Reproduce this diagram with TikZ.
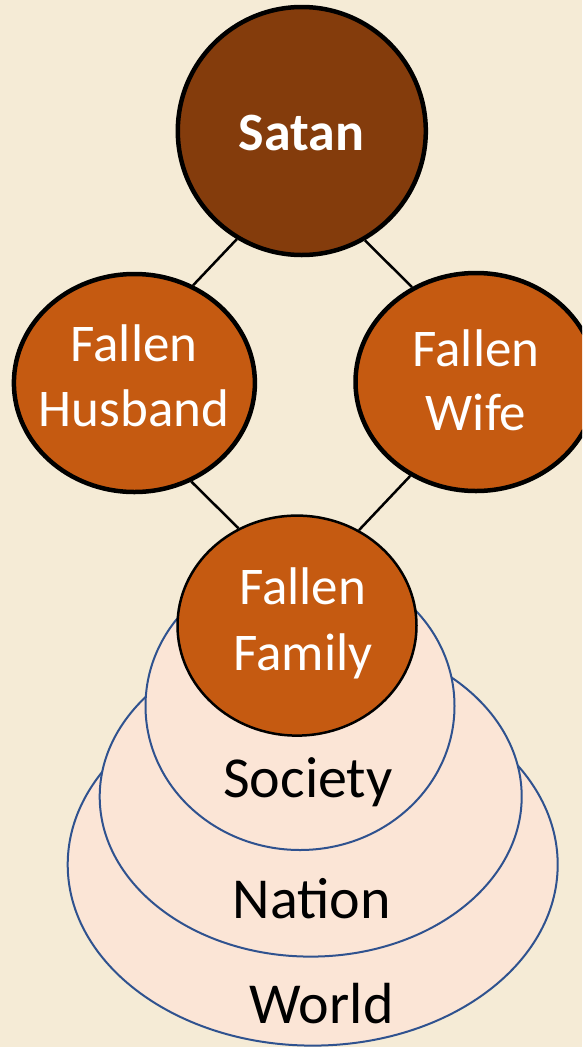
\documentclass[tikz,border=0pt]{standalone}
\usepackage{fontspec}
\setmainfont{Carlito}
\usetikzlibrary{shapes.geometric}
\definecolor{bgc}{HTML}{F5EBD6}
\definecolor{satanc}{HTML}{843C0C}
\definecolor{fallenc}{HTML}{C55A11}
\definecolor{peachc}{HTML}{FBE5D6}
\definecolor{bluec}{HTML}{2F528F}
\tikzset{
  bigball/.style={ellipse, draw=black, line width=4.5pt, inner sep=0pt},
  ring/.style={ellipse, draw=bluec, fill=peachc, line width=2pt, inner sep=0pt},
  link/.style={draw=black, line width=2.5pt},
  wtxt/.style={anchor=base, text=white, inner sep=0pt, font=\fontsize{53}{64}\selectfont},
  btxt/.style={anchor=base, text=black, inner sep=0pt, font=\fontsize{58}{68}\selectfont},
}
\begin{document}
\begin{tikzpicture}[x=1pt,y=-1pt]
\useasboundingbox (0,0) rectangle (582,1047);
\fill[bgc] (0,0) rectangle (582,1047);
\clip (0,0) rectangle (582,1047);
% rings
\node[ring, minimum width=490pt, minimum height=362pt] (world) at (312.7,864.6) {};
\node[ring, minimum width=422pt, minimum height=320pt] (nation) at (310.7,796.6) {};
\node[ring, minimum width=309pt, minimum height=288pt] (society) at (300,706) {};
% balls
\node[bigball, fill=satanc, minimum width=248pt, minimum height=248pt] (satan) at (301.8,131) {};
\node[bigball, fill=fallenc, minimum width=241pt, minimum height=218pt] (husband) at (134.4,383) {};
\node[bigball, fill=fallenc, minimum width=241pt, minimum height=218pt] (wife) at (476,382) {};
\node[ellipse, draw=black, line width=2.5pt, inner sep=0pt, fill=fallenc, minimum width=239pt, minimum height=220pt] (family) at (297,625.6) {};
% links
\draw[link] (satan.239) -- (husband.59);
\draw[link] (satan.300) -- (wife.124);
\draw[link] (husband.300) -- (family.121);
\draw[link] (wife.235) -- (family.57);
% texts
\node[wtxt, font=\fontsize{54}{64}\selectfont\bfseries] (tsatan) at (301.5,150) {Satan};
\node[wtxt] (thus1) at (134,361.7) {Fallen};
\node[wtxt] (thus2) at (134,426.7) {Husband};
\node[wtxt] (twife1) at (476,366.7) {Fallen};
\node[wtxt] (twife2) at (476,430) {Wife};
\node[wtxt] (tfam1) at (302.5,604.7) {Fallen};
\node[wtxt] (tfam2) at (303,670) {Family};
\node[btxt] (tsoc) at (308,797.3) {Society};
\node[btxt] (tnat) at (311.6,918.7) {Nation};
\node[btxt] (twor) at (321.6,1023.4) {World};
\end{tikzpicture}
\end{document}
